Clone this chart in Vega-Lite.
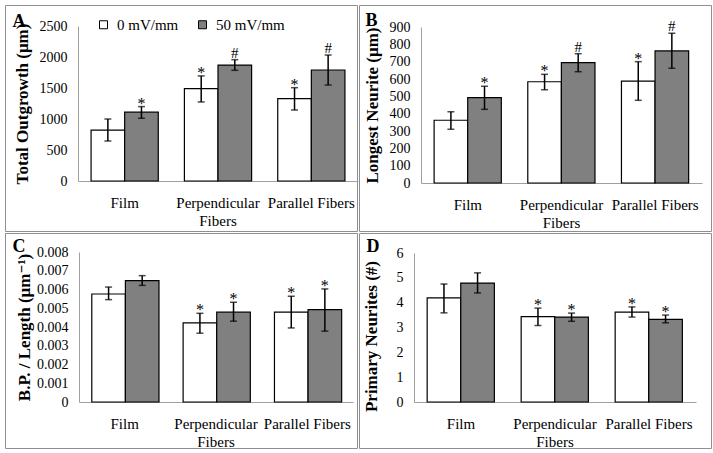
{
  "$schema": "https://vega.github.io/schema/vega-lite/v6.json",
  "background": "white",
  "padding": {"left": 4, "top": 4, "right": 0, "bottom": 0},
  "datasets": {
    "d": [
      {"panel": "A", "cat": "Film", "grp": "0 mV/mm", "v": 820, "lo": 645, "hi": 1000, "sig": ""},
      {"panel": "A", "cat": "Film", "grp": "50 mV/mm", "v": 1110, "lo": 1012, "hi": 1200, "sig": "*"},
      {"panel": "A", "cat": "Perpendicular Fibers", "grp": "0 mV/mm", "v": 1490, "lo": 1275, "hi": 1695, "sig": "*"},
      {"panel": "A", "cat": "Perpendicular Fibers", "grp": "50 mV/mm", "v": 1870, "lo": 1785, "hi": 1957, "sig": "#"},
      {"panel": "A", "cat": "Parallel Fibers", "grp": "0 mV/mm", "v": 1330, "lo": 1145, "hi": 1505, "sig": "*"},
      {"panel": "A", "cat": "Parallel Fibers", "grp": "50 mV/mm", "v": 1790, "lo": 1548, "hi": 2032, "sig": "#"},
      {"panel": "B", "cat": "Film", "grp": "0 mV/mm", "v": 362, "lo": 310, "hi": 411, "sig": ""},
      {"panel": "B", "cat": "Film", "grp": "50 mV/mm", "v": 492, "lo": 425, "hi": 558, "sig": "*"},
      {"panel": "B", "cat": "Perpendicular Fibers", "grp": "0 mV/mm", "v": 584, "lo": 538, "hi": 627, "sig": "*"},
      {"panel": "B", "cat": "Perpendicular Fibers", "grp": "50 mV/mm", "v": 694, "lo": 642, "hi": 746, "sig": "#"},
      {"panel": "B", "cat": "Parallel Fibers", "grp": "0 mV/mm", "v": 588, "lo": 477, "hi": 700, "sig": "*"},
      {"panel": "B", "cat": "Parallel Fibers", "grp": "50 mV/mm", "v": 762, "lo": 662, "hi": 864, "sig": "#"},
      {"panel": "C", "cat": "Film", "grp": "0 mV/mm", "v": 0.00576, "lo": 0.00546, "hi": 0.00613, "sig": ""},
      {"panel": "C", "cat": "Film", "grp": "50 mV/mm", "v": 0.00647, "lo": 0.00622, "hi": 0.00674, "sig": ""},
      {"panel": "C", "cat": "Perpendicular Fibers", "grp": "0 mV/mm", "v": 0.00422, "lo": 0.00367, "hi": 0.00473, "sig": "*"},
      {"panel": "C", "cat": "Perpendicular Fibers", "grp": "50 mV/mm", "v": 0.00479, "lo": 0.00431, "hi": 0.00532, "sig": "*"},
      {"panel": "C", "cat": "Parallel Fibers", "grp": "0 mV/mm", "v": 0.00479, "lo": 0.00395, "hi": 0.00564, "sig": "*"},
      {"panel": "C", "cat": "Parallel Fibers", "grp": "50 mV/mm", "v": 0.00493, "lo": 0.00378, "hi": 0.00603, "sig": "*"},
      {"panel": "D", "cat": "Film", "grp": "0 mV/mm", "v": 4.19, "lo": 3.59, "hi": 4.75, "sig": ""},
      {"panel": "D", "cat": "Film", "grp": "50 mV/mm", "v": 4.79, "lo": 4.39, "hi": 5.2, "sig": ""},
      {"panel": "D", "cat": "Perpendicular Fibers", "grp": "0 mV/mm", "v": 3.44, "lo": 3.08, "hi": 3.78, "sig": "*"},
      {"panel": "D", "cat": "Perpendicular Fibers", "grp": "50 mV/mm", "v": 3.42, "lo": 3.25, "hi": 3.58, "sig": "*"},
      {"panel": "D", "cat": "Parallel Fibers", "grp": "0 mV/mm", "v": 3.62, "lo": 3.42, "hi": 3.83, "sig": "*"},
      {"panel": "D", "cat": "Parallel Fibers", "grp": "50 mV/mm", "v": 3.33, "lo": 3.19, "hi": 3.5, "sig": "*"}
    ]
  },
  "data": {"name": "d"},
  "spacing": 0,
  "resolve": {"scale": {"x": "independent", "y": "independent", "fill": "independent"}},
  "vconcat": [
    {
      "spacing": 0,
      "resolve": {"scale": {"x": "independent", "y": "independent", "fill": "independent"}},
      "hconcat": [
        {
          "width": 352, "height": 226,
          "transform": [{"filter": "datum.panel == 'A'"}],
          "encoding": {
            "x": {"field": "cat", "type": "nominal", "sort": ["Film", "Perpendicular Fibers", "Parallel Fibers"], "scale": {"range": [73, 353], "paddingInner": 0.28, "paddingOuter": 0.14},
              "axis": {"offset": -50, "title": "A", "titleX": 7, "titleY": -155, "titleAngle": 0, "titleAlign": "left", "titleBaseline": "alphabetic", "titleFontSize": 18, "titleFontWeight": "bold", "labelExpr": "datum.label == 'Perpendicular Fibers' ? ['Perpendicular', 'Fibers'] : datum.label"}},
            "xOffset": {"field": "grp", "type": "nominal", "sort": ["0 mV/mm", "50 mV/mm"]}
          },
          "layer": [
            {"mark": {"type": "bar", "stroke": "black", "strokeWidth": 1.2},
             "encoding": {
               "y": {"field": "v", "type": "quantitative", "scale": {"domain": [0, 2500], "range": [176, 21], "nice": false}, "axis": {"values": [0, 500, 1000, 1500, 2000, 2500], "tickCount": 20, "format": "d", "labelOverlap": false, "offset": -73, "title": "Total Outgrowth (μm)", "titlePadding": 8}},
               "fill": {"field": "grp", "type": "nominal", "scale": {"domain": ["0 mV/mm", "50 mV/mm"], "range": ["#ffffff", "#808080"]},
                 "legend": {"orient": "none", "legendX": 91, "legendY": 12, "direction": "horizontal", "title": null, "symbolType": "square", "symbolSize": 64, "symbolStrokeColor": "black", "symbolStrokeWidth": 1, "labelFontSize": 15, "labelColor": "black", "columnPadding": 16, "labelOffset": 6, "padding": 0}}
             }},
            {"mark": {"type": "rule", "color": "black", "strokeWidth": 1.5}, "encoding": {"y": {"field": "lo", "type": "quantitative", "axis": {"values": [0, 500, 1000, 1500, 2000, 2500], "tickCount": 20, "format": "d", "labelOverlap": false, "offset": -73, "title": "Total Outgrowth (μm)", "titlePadding": 8}}, "y2": {"field": "hi"}}},
            {"mark": {"type": "tick", "color": "black", "thickness": 1.5, "size": 7}, "encoding": {"y": {"field": "lo", "type": "quantitative", "axis": {"values": [0, 500, 1000, 1500, 2000, 2500], "tickCount": 20, "format": "d", "labelOverlap": false, "offset": -73, "title": "Total Outgrowth (μm)", "titlePadding": 8}}}},
            {"mark": {"type": "tick", "color": "black", "thickness": 1.5, "size": 7}, "encoding": {"y": {"field": "hi", "type": "quantitative", "axis": {"values": [0, 500, 1000, 1500, 2000, 2500], "tickCount": 20, "format": "d", "labelOverlap": false, "offset": -73, "title": "Total Outgrowth (μm)", "titlePadding": 8}}}},
            {"transform": [{"filter": "datum.sig == '*'"}], "mark": {"type": "text", "fontSize": 16, "baseline": "alphabetic", "dy": 2, "fill": "black"}, "encoding": {"y": {"field": "hi", "type": "quantitative", "axis": {"values": [0, 500, 1000, 1500, 2000, 2500], "tickCount": 20, "format": "d", "labelOverlap": false, "offset": -73, "title": "Total Outgrowth (μm)", "titlePadding": 8}}, "text": {"field": "sig"}}},
            {"transform": [{"filter": "datum.sig == '#'"}], "mark": {"type": "text", "fontSize": 15, "baseline": "alphabetic", "dy": -2, "fill": "black"}, "encoding": {"y": {"field": "hi", "type": "quantitative", "axis": {"values": [0, 500, 1000, 1500, 2000, 2500], "tickCount": 20, "format": "d", "labelOverlap": false, "offset": -73, "title": "Total Outgrowth (μm)", "titlePadding": 8}}, "text": {"field": "sig"}}}
          ]
        },
        {
          "width": 352, "height": 226,
          "transform": [{"filter": "datum.panel == 'B'"}],
          "encoding": {
            "x": {"field": "cat", "type": "nominal", "sort": ["Film", "Perpendicular Fibers", "Parallel Fibers"], "scale": {"range": [62, 343], "paddingInner": 0.28, "paddingOuter": 0.14},
              "axis": {"offset": -48, "title": "B", "titleX": 6, "titleY": -158, "titleAngle": 0, "titleAlign": "left", "titleBaseline": "alphabetic", "titleFontSize": 18, "titleFontWeight": "bold", "labelExpr": "datum.label == 'Perpendicular Fibers' ? ['Perpendicular', 'Fibers'] : datum.label"}},
            "xOffset": {"field": "grp", "type": "nominal", "sort": ["0 mV/mm", "50 mV/mm"]}
          },
          "layer": [
            {"mark": {"type": "bar", "stroke": "black", "strokeWidth": 1.2},
             "encoding": {
               "y": {"field": "v", "type": "quantitative", "scale": {"domain": [0, 900], "range": [178, 22], "nice": false}, "axis": {"values": [0, 100, 200, 300, 400, 500, 600, 700, 800, 900], "tickCount": 20, "format": "d", "labelOverlap": false, "offset": -62, "title": "Longest Neurite (μm)", "titlePadding": 8}},
               "fill": {"field": "grp", "type": "nominal", "scale": {"domain": ["0 mV/mm", "50 mV/mm"], "range": ["#ffffff", "#808080"]}, "legend": null}
             }},
            {"mark": {"type": "rule", "color": "black", "strokeWidth": 1.5}, "encoding": {"y": {"field": "lo", "type": "quantitative", "axis": {"values": [0, 100, 200, 300, 400, 500, 600, 700, 800, 900], "tickCount": 20, "format": "d", "labelOverlap": false, "offset": -62, "title": "Longest Neurite (μm)", "titlePadding": 8}}, "y2": {"field": "hi"}}},
            {"mark": {"type": "tick", "color": "black", "thickness": 1.5, "size": 7}, "encoding": {"y": {"field": "lo", "type": "quantitative", "axis": {"values": [0, 100, 200, 300, 400, 500, 600, 700, 800, 900], "tickCount": 20, "format": "d", "labelOverlap": false, "offset": -62, "title": "Longest Neurite (μm)", "titlePadding": 8}}}},
            {"mark": {"type": "tick", "color": "black", "thickness": 1.5, "size": 7}, "encoding": {"y": {"field": "hi", "type": "quantitative", "axis": {"values": [0, 100, 200, 300, 400, 500, 600, 700, 800, 900], "tickCount": 20, "format": "d", "labelOverlap": false, "offset": -62, "title": "Longest Neurite (μm)", "titlePadding": 8}}}},
            {"transform": [{"filter": "datum.sig == '*'"}], "mark": {"type": "text", "fontSize": 16, "baseline": "alphabetic", "dy": 2, "fill": "black"}, "encoding": {"y": {"field": "hi", "type": "quantitative", "axis": {"values": [0, 100, 200, 300, 400, 500, 600, 700, 800, 900], "tickCount": 20, "format": "d", "labelOverlap": false, "offset": -62, "title": "Longest Neurite (μm)", "titlePadding": 8}}, "text": {"field": "sig"}}},
            {"transform": [{"filter": "datum.sig == '#'"}], "mark": {"type": "text", "fontSize": 15, "baseline": "alphabetic", "dy": -2, "fill": "black"}, "encoding": {"y": {"field": "hi", "type": "quantitative", "axis": {"values": [0, 100, 200, 300, 400, 500, 600, 700, 800, 900], "tickCount": 20, "format": "d", "labelOverlap": false, "offset": -62, "title": "Longest Neurite (μm)", "titlePadding": 8}}, "text": {"field": "sig"}}}
          ]
        }
      ]
    },
    {
      "spacing": 0,
      "resolve": {"scale": {"x": "independent", "y": "independent", "fill": "independent"}},
      "hconcat": [
        {
          "width": 352, "height": 215,
          "transform": [{"filter": "datum.panel == 'C'"}],
          "encoding": {
            "x": {"field": "cat", "type": "nominal", "sort": ["Film", "Perpendicular Fibers", "Parallel Fibers"], "scale": {"range": [74, 348], "paddingInner": 0.28, "paddingOuter": 0.14},
              "axis": {"offset": -46, "title": "C", "titleX": 7, "titleY": -151, "titleAngle": 0, "titleAlign": "left", "titleBaseline": "alphabetic", "titleFontSize": 18, "titleFontWeight": "bold", "labelExpr": "datum.label == 'Perpendicular Fibers' ? ['Perpendicular', 'Fibers'] : datum.label"}},
            "xOffset": {"field": "grp", "type": "nominal", "sort": ["0 mV/mm", "50 mV/mm"]}
          },
          "layer": [
            {"mark": {"type": "bar", "stroke": "black", "strokeWidth": 1.2},
             "encoding": {
               "y": {"field": "v", "type": "quantitative", "scale": {"domain": [0, 0.008], "range": [169, 19], "nice": false}, "axis": {"values": [0, 0.001, 0.002, 0.003, 0.004, 0.005, 0.006, 0.007, 0.008], "tickCount": 20, "format": "~g", "labelOverlap": false, "offset": -74, "title": "B.P. / Length  (μm⁻¹)", "titlePadding": 3}},
               "fill": {"field": "grp", "type": "nominal", "scale": {"domain": ["0 mV/mm", "50 mV/mm"], "range": ["#ffffff", "#808080"]}, "legend": null}
             }},
            {"mark": {"type": "rule", "color": "black", "strokeWidth": 1.5}, "encoding": {"y": {"field": "lo", "type": "quantitative", "axis": {"values": [0, 0.001, 0.002, 0.003, 0.004, 0.005, 0.006, 0.007, 0.008], "tickCount": 20, "format": "~g", "labelOverlap": false, "offset": -74, "title": "B.P. / Length  (μm⁻¹)", "titlePadding": 3}}, "y2": {"field": "hi"}}},
            {"mark": {"type": "tick", "color": "black", "thickness": 1.5, "size": 7}, "encoding": {"y": {"field": "lo", "type": "quantitative", "axis": {"values": [0, 0.001, 0.002, 0.003, 0.004, 0.005, 0.006, 0.007, 0.008], "tickCount": 20, "format": "~g", "labelOverlap": false, "offset": -74, "title": "B.P. / Length  (μm⁻¹)", "titlePadding": 3}}}},
            {"mark": {"type": "tick", "color": "black", "thickness": 1.5, "size": 7}, "encoding": {"y": {"field": "hi", "type": "quantitative", "axis": {"values": [0, 0.001, 0.002, 0.003, 0.004, 0.005, 0.006, 0.007, 0.008], "tickCount": 20, "format": "~g", "labelOverlap": false, "offset": -74, "title": "B.P. / Length  (μm⁻¹)", "titlePadding": 3}}}},
            {"transform": [{"filter": "datum.sig == '*'"}], "mark": {"type": "text", "fontSize": 16, "baseline": "alphabetic", "dy": 2, "fill": "black"}, "encoding": {"y": {"field": "hi", "type": "quantitative", "axis": {"values": [0, 0.001, 0.002, 0.003, 0.004, 0.005, 0.006, 0.007, 0.008], "tickCount": 20, "format": "~g", "labelOverlap": false, "offset": -74, "title": "B.P. / Length  (μm⁻¹)", "titlePadding": 3}}, "text": {"field": "sig"}}}
          ]
        },
        {
          "width": 352, "height": 215,
          "transform": [{"filter": "datum.panel == 'D'"}],
          "encoding": {
            "x": {"field": "cat", "type": "nominal", "sort": ["Film", "Perpendicular Fibers", "Parallel Fibers"], "scale": {"range": [55, 337], "paddingInner": 0.28, "paddingOuter": 0.14},
              "axis": {"offset": -46, "title": "D", "titleX": 7, "titleY": -151, "titleAngle": 0, "titleAlign": "left", "titleBaseline": "alphabetic", "titleFontSize": 18, "titleFontWeight": "bold", "labelExpr": "datum.label == 'Perpendicular Fibers' ? ['Perpendicular', 'Fibers'] : datum.label"}},
            "xOffset": {"field": "grp", "type": "nominal", "sort": ["0 mV/mm", "50 mV/mm"]}
          },
          "layer": [
            {"mark": {"type": "bar", "stroke": "black", "strokeWidth": 1.2},
             "encoding": {
               "y": {"field": "v", "type": "quantitative", "scale": {"domain": [0, 6], "range": [169, 20], "nice": false}, "axis": {"values": [0, 1, 2, 3, 4, 5, 6], "tickCount": 20, "format": "d", "labelOverlap": false, "offset": -55, "title": "Primary Neurites (#)", "titlePadding": 16, "titleY": 103}},
               "fill": {"field": "grp", "type": "nominal", "scale": {"domain": ["0 mV/mm", "50 mV/mm"], "range": ["#ffffff", "#808080"]}, "legend": null}
             }},
            {"mark": {"type": "rule", "color": "black", "strokeWidth": 1.5}, "encoding": {"y": {"field": "lo", "type": "quantitative", "axis": {"values": [0, 1, 2, 3, 4, 5, 6], "tickCount": 20, "format": "d", "labelOverlap": false, "offset": -55, "title": "Primary Neurites (#)", "titlePadding": 16, "titleY": 103}}, "y2": {"field": "hi"}}},
            {"mark": {"type": "tick", "color": "black", "thickness": 1.5, "size": 7}, "encoding": {"y": {"field": "lo", "type": "quantitative", "axis": {"values": [0, 1, 2, 3, 4, 5, 6], "tickCount": 20, "format": "d", "labelOverlap": false, "offset": -55, "title": "Primary Neurites (#)", "titlePadding": 16, "titleY": 103}}}},
            {"mark": {"type": "tick", "color": "black", "thickness": 1.5, "size": 7}, "encoding": {"y": {"field": "hi", "type": "quantitative", "axis": {"values": [0, 1, 2, 3, 4, 5, 6], "tickCount": 20, "format": "d", "labelOverlap": false, "offset": -55, "title": "Primary Neurites (#)", "titlePadding": 16, "titleY": 103}}}},
            {"transform": [{"filter": "datum.sig == '*'"}], "mark": {"type": "text", "fontSize": 16, "baseline": "alphabetic", "dy": 2, "fill": "black"}, "encoding": {"y": {"field": "hi", "type": "quantitative", "axis": {"values": [0, 1, 2, 3, 4, 5, 6], "tickCount": 20, "format": "d", "labelOverlap": false, "offset": -55, "title": "Primary Neurites (#)", "titlePadding": 16, "titleY": 103}}, "text": {"field": "sig"}}}
          ]
        }
      ]
    }
  ],
  "config": {
    "font": "Liberation Serif, 'Times New Roman', 'DejaVu Serif', serif",
    "text": {"font": "Liberation Serif, 'Times New Roman', 'DejaVu Serif', serif"},
    "legend": {"labelFont": "Liberation Serif, 'Times New Roman', 'DejaVu Serif', serif"},
    "view": {"stroke": "#8f8f8f", "strokeWidth": 1},
    "axis": {"labelFont": "Liberation Serif, 'Times New Roman', 'DejaVu Serif', serif", "titleFont": "Liberation Serif, 'Times New Roman', 'DejaVu Serif', serif", "labelColor": "black", "titleColor": "black", "domainColor": "#a0a0a0", "domainWidth": 1, "ticks": false, "grid": false},
    "axisX": {"labelFontSize": 15, "labelPadding": 14, "labelAngle": 0, "labelLineHeight": 18, "labelOverlap": false, "labelLimit": 200},
    "axisY": {"labelFontSize": 14, "labelPadding": 11, "titleFontSize": 17, "titleFontWeight": "bold", "labelOverlap": false},
    "axisQuantitative": {"labelOverlap": false}
  }
}
